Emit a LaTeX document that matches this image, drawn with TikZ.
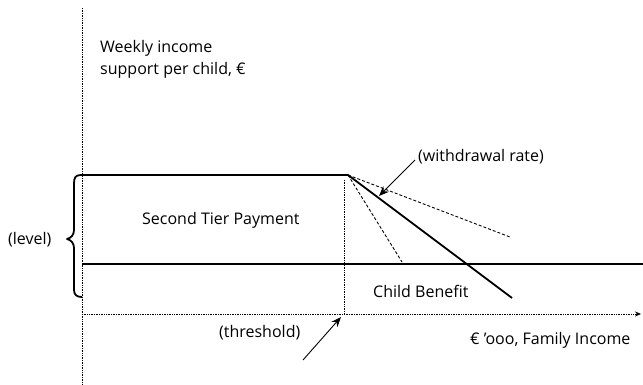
\documentclass[tikz,border=0pt]{standalone}
\usepackage{fontspec}
\setmainfont{Open Sans}
\usetikzlibrary{arrows.meta}
\begin{document}
\begin{tikzpicture}[x=1pt,y=-1pt,
  lbl/.style={font=\fontsize{16}{20}\selectfont, inner sep=0pt, anchor=west},
  axisline/.style={densely dotted, line width=0.7pt},
  thickline/.style={line width=1.8pt},
  guide/.style={line width=0.9pt, dash pattern=on 3pt off 2pt},
  pointer/.style={line width=0.9pt, -{Stealth[length=10pt,width=8pt]}}]
\useasboundingbox (0,0) rectangle (643,385);
% coordinates
\coordinate (ytop) at (82,8);
\coordinate (ybot) at (82,385);
\coordinate (origin) at (82,314);
\coordinate (xend) at (641,314);
\coordinate (kink) at (348,175);
\coordinate (ttop) at (344,180);
\coordinate (tbot) at (344,314);
\coordinate (wend) at (512,298);
\coordinate (cbl) at (82,264);
\coordinate (cbr) at (643,264);
\coordinate (g1) at (510,237);
\coordinate (g2) at (402,262);
% axes
\draw[axisline] (ytop) -- (ybot);
\draw[axisline, -{Stealth[length=6pt,width=5pt]}] (origin) -- (xend);
\draw[axisline] (ttop) -- (tbot);
% child benefit line
\draw[thickline] (cbl) -- (cbr);
% brace + second tier top + withdrawal
\draw[thickline, line join=round] (wend) -- (kink) -- (81,175)
  .. controls (75,175) and (74,178) .. (74,184) -- (74,230)
  .. controls (74,235) and (71,238) .. (67,239)
  .. controls (71,240) and (74,243) .. (74,248) -- (74,290)
  .. controls (74,295) and (77,297) .. (82,297);
% dashed guides
\draw[guide] (kink) -- (g1);
\draw[guide] (kink) -- (g2);
% text
\node[lbl] (yl1) at (100,48) {Weekly income};
\node[lbl] (yl2) at (100,70) {support per child, €};
\node[lbl] (stp) at (142,220) {Second Tier Payment};
\node[lbl] (lev) at (8,240) {(level)};
\node[lbl] (cb) at (373,291) {Child Benefit};
\node[lbl] (wr) at (418,157) {(withdrawal rate)};
\node[lbl] (th) at (219,333) {(threshold)};
\node[lbl] (xl) at (470,340) {€ 'ooo, Family Income};
% pointers
\coordinate (wrtail) at (415,160);
\coordinate (wrhead) at (379,196);
\draw[pointer] (wrtail) -- (wrhead);
\coordinate (thtail) at (303,360);
\coordinate (thhead) at (341,317);
\draw[pointer] (thtail) -- (thhead);
\end{tikzpicture}
\end{document}
